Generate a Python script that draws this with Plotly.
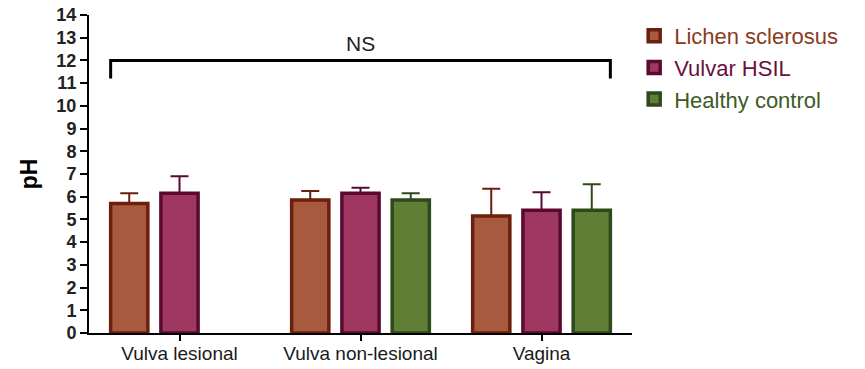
import plotly.graph_objects as go

categories = ["Vulva lesional", "Vulva non-lesional", "Vagina"]
series_names = ["Lichen sclerosus", "Vulvar HSIL", "Healthy control"]
lichen_mean = [5.7, 5.85, 5.15]
lichen_sd = [0.45, 0.4, 1.2]
hsil_mean = [6.15, 6.15, 5.4]
hsil_sd = [0.75, 0.25, 0.8]
healthy_mean = [None, 5.85, 5.4]
healthy_sd = [None, 0.3, 1.15]
y_ticks = list(range(0, 15))
sig_label = "NS"
sig_level = 12

fills = ["#A85A3E", "#9E3860", "#5E7F35"]
borders = ["#6B1F0E", "#5A0A30", "#2F4A1A"]
text_cols = ["#8B3A1E", "#6A1040", "#3E5A25"]

means = [lichen_mean, hsil_mean, healthy_mean]
sds = [lichen_sd, hsil_sd, healthy_sd]

fig = go.Figure()
for i in range(3):
    fig.add_trace(go.Bar(
        x=categories, y=means[i],
        name=f'<span style="color:{text_cols[i]}">{series_names[i]}</span>',
        legendgroup=series_names[i],
        marker=dict(color=fills[i], line=dict(color=borders[i], width=3.5)),
        error_y=dict(type="data", symmetric=False, array=sds[i],
                     arrayminus=[0 if v is not None else None for v in sds[i]],
                     color=borders[i], thickness=2, width=9),
    ))

bargap = 0.167
groupgap = 0.26
slot = (1 - bargap) / 3
bar_w = slot * (1 - groupgap)
left_edge = 0 - slot - bar_w / 2
right_edge = (len(categories) - 1) + slot + bar_w / 2
drop = 0.8

fig.add_shape(type="path",
              path=f"M {left_edge} {sig_level - drop} L {left_edge} {sig_level} "
                   f"L {right_edge} {sig_level} L {right_edge} {sig_level - drop}",
              xref="x", yref="y", line=dict(color="black", width=3))
fig.add_annotation(x=(len(categories) - 1) / 2, y=sig_level, xref="x", yref="y",
                   text=sig_label, showarrow=False, yanchor="bottom", yshift=3,
                   font=dict(size=21, color="#222", family="Arial"))

fig.update_layout(
    width=865, height=369,
    margin=dict(l=89, r=233, t=15, b=36),
    plot_bgcolor="white", paper_bgcolor="white",
    barmode="group", bargap=bargap, bargroupgap=groupgap,
    font=dict(family="Arial", color="#222"),
    legend=dict(x=1.004, xanchor="left", y=1.0, yanchor="top",
                font=dict(size=22, family="Arial"), tracegroupgap=0,
                itemwidth=30, bgcolor="rgba(0,0,0,0)"),
    showlegend=True,
)
fig.update_xaxes(range=[-0.5, 2.5], showline=True, linecolor="black", linewidth=2,
                 ticks="outside", ticklen=6, tickwidth=2, tickcolor="black",
                 tickfont=dict(size=19, color="#1a1a1a", family="Arial"),
                 ticklabelstandoff=-4,
                 showgrid=False, zeroline=False, automargin=False)
fig.update_yaxes(range=[0, 14], tickvals=y_ticks, showline=True, linecolor="black",
                 linewidth=2, ticks="outside", ticklen=7, tickwidth=2, tickcolor="black",
                 tickfont=dict(size=18, color="#222", family="Arial", weight="bold"),
                 showgrid=False, zeroline=False, automargin=False,
                 title=dict(text="<b>pH</b>", font=dict(size=23, color="black"), standoff=12))

fig.write_html("out.html")
